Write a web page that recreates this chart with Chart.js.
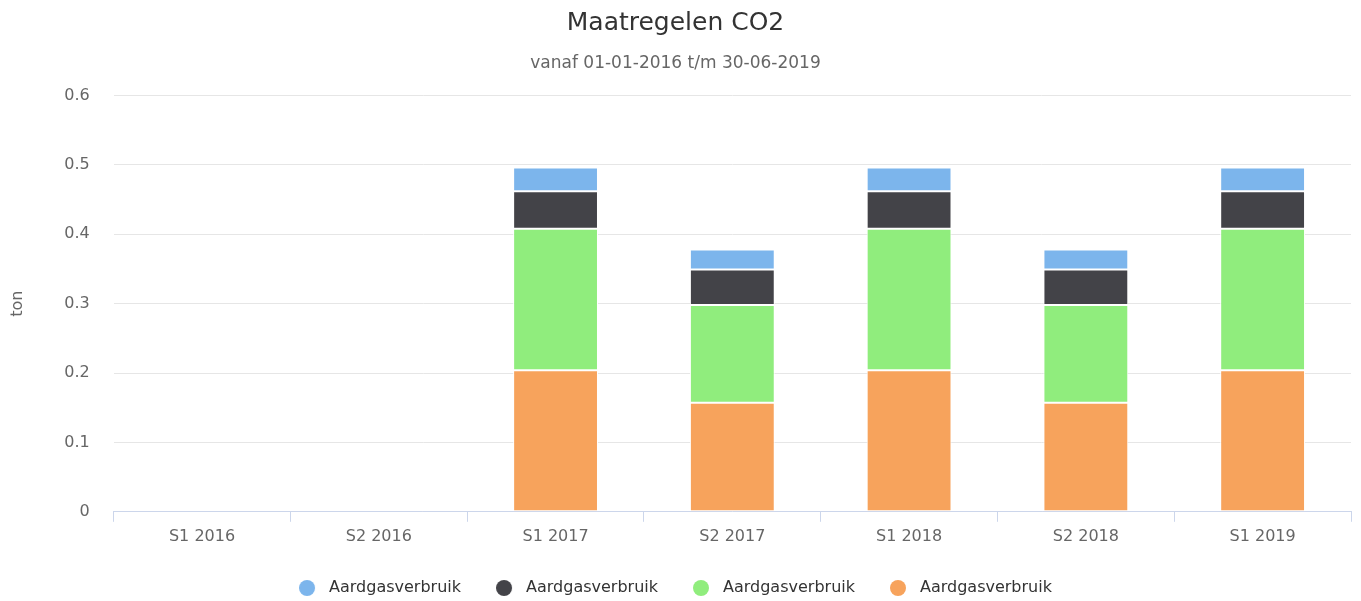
<!DOCTYPE html>
<html>
<head>
<meta charset="utf-8">
<script src="https://cdn.jsdelivr.net/npm/chart.js@4/dist/chart.umd.min.js"></script>
<style>
  html, body { margin: 0; padding: 0; background: #fff; }
  #wrap { width: 1361px; height: 601px; }
</style>
</head>
<body>
<div id="wrap"><canvas id="chart"></canvas></div>
<script>
// periods on the x axis
const periods = ["S1 2016", "S2 2016", "S1 2017", "S2 2017", "S1 2018", "S2 2018", "S1 2019"];

// stacked values in ton, bottom to top
const orangeValues = [0, 0, 0.204, 0.157, 0.204, 0.157, 0.204];
const greenValues  = [0, 0, 0.204, 0.141, 0.204, 0.141, 0.204];
const darkValues   = [0, 0, 0.054, 0.051, 0.054, 0.051, 0.054];
const blueValues   = [0, 0, 0.034, 0.029, 0.034, 0.029, 0.034];

const seriesName = "Aardgasverbruik";
const yTicks = [0, 0.1, 0.2, 0.3, 0.4, 0.5, 0.6];

const fontFamily = "'DejaVu Sans', Verdana, sans-serif";

function makeSet(values, color) {
  return {
    label: seriesName,
    data: values,
    backgroundColor: color,
    borderColor: "#ffffff",
    borderWidth: 1,
    borderSkipped: false,
    categoryPercentage: 1,
    barPercentage: 0.48
  };
}

// legend marker: a round dot sitting at the left of a wider box
function legendDot(color) {
  const c = document.createElement("canvas");
  c.width = 22;
  c.height = 18;
  const ctx = c.getContext("2d");
  ctx.fillStyle = color;
  ctx.beginPath();
  ctx.arc(8, 9, 8, 0, Math.PI * 2);
  ctx.fill();
  return c;
}

new Chart(document.getElementById("chart"), {
  type: "bar",
  data: {
    labels: periods,
    datasets: [
      makeSet(orangeValues, "#f7a35c"),
      makeSet(greenValues, "#90ed7d"),
      makeSet(darkValues, "#434348"),
      makeSet(blueValues, "#7cb5ec")
    ]
  },
  options: {
    responsive: true,
    maintainAspectRatio: false,
    animation: false,
    layout: { padding: { top: 8, right: 10, bottom: -5, left: 0 } },
    plugins: {
      title: {
        display: true,
        text: "Maatregelen CO2",
        color: "#333333",
        font: { family: fontFamily, size: 25, weight: "normal" },
        padding: { top: 0, bottom: 15 }
      },
      subtitle: {
        display: true,
        text: "vanaf 01-01-2016 t/m 30-06-2019",
        color: "#666666",
        font: { family: fontFamily, size: 17, weight: "normal" },
        padding: { top: 0, bottom: 22 }
      },
      legend: {
        position: "bottom",
        reverse: true,
        labels: {
          usePointStyle: true,
          pointStyleWidth: 22,
          boxHeight: 12,
          padding: 35,
          color: "#333333",
          font: { family: fontFamily, size: 16 },
          generateLabels: function (chart) {
            const items = Chart.defaults.plugins.legend.labels.generateLabels(chart);
            items.forEach(function (item) {
              item.pointStyle = legendDot(item.fillStyle);
            });
            return items;
          }
        }
      },
      tooltip: { enabled: false }
    },
    scales: {
      x: {
        stacked: true,
        afterFit: function (scale) { scale.height = scale.height - 6; },
        border: { display: true, color: "#ccd6eb", width: 1 },
        grid: {
          offset: true,
          drawOnChartArea: false,
          drawTicks: true,
          tickLength: 10,
          color: "#ccd6eb"
        },
        ticks: {
          color: "#666666",
          font: { family: fontFamily, size: 16 },
          padding: 5
        }
      },
      y: {
        stacked: true,
        min: 0,
        max: 0.6,
        afterBuildTicks: function (scale) {
          scale.ticks = yTicks.map(function (v) { return { value: v }; });
        },
        border: { display: false },
        grid: { color: "#e6e6e6", drawTicks: false },
        ticks: {
          color: "#666666",
          font: { family: fontFamily, size: 16 },
          padding: 24
        },
        title: {
          display: true,
          text: "ton",
          color: "#666666",
          font: { family: fontFamily, size: 16 },
          padding: { top: 8, bottom: 13 }
        }
      }
    }
  }
});
</script>
</body>
</html>
